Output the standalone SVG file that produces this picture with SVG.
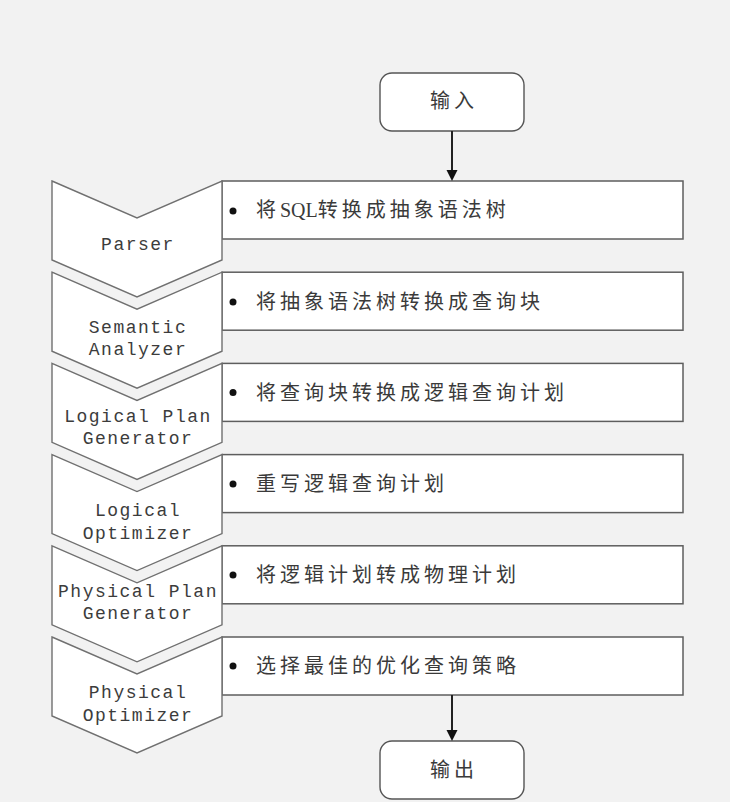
<svg xmlns="http://www.w3.org/2000/svg" width="730" height="802" viewBox="0 0 730 802">
<style>
.chev{fill:#ffffff;stroke:#707070;stroke-width:1.4;stroke-linejoin:miter}
.box{fill:#ffffff;stroke:#5e5e5e;stroke-width:1.5}
.term{fill:#ffffff;stroke:#555555;stroke-width:1.4}
.en{font-family:"Liberation Mono","DejaVu Sans Mono",monospace;font-size:18px;letter-spacing:1.5px;fill:#3c3c3c;text-anchor:middle}
.zh{font-family:"Liberation Serif","Noto Sans CJK SC",serif;font-size:20px;letter-spacing:4px;fill:#3a3a3a}
.zc{font-family:"Liberation Serif","Noto Sans CJK SC",serif;font-size:20px;letter-spacing:4px;fill:#3a3a3a;text-anchor:middle}
.lat{letter-spacing:0px}
.dot{fill:#111111}
.conn{stroke:#222222;stroke-width:2;fill:none}
.head{fill:#111111}
</style>
<rect x="0" y="0" width="730" height="802" fill="#f2f2f2"/>

<g id="input">
<rect class="term" x="380" y="73" width="144" height="58" rx="12" ry="12"/>
<text class="zc" x="454" y="108">输入</text>
</g>

<g id="parser">
<rect class="box" x="222" y="181" width="461" height="58"/>
<path class="chev" d="M52,181 L137,218 L222,181 L222,260 L137,297 L52,260 Z"/>
<circle class="dot" cx="233" cy="211" r="3.5"/>
<text class="zh" x="256" y="217">将<tspan class="lat">SQL</tspan>转换成抽象语法树</text>
<text class="en" x="138" y="250">Parser</text>
</g>

<g id="semantic-analyzer">
<rect class="box" x="222" y="272.2" width="461" height="58"/>
<path class="chev" d="M52,272.2 L137,309.2 L222,272.2 L222,351.2 L137,388.2 L52,351.2 Z"/>
<circle class="dot" cx="233" cy="302" r="3.5"/>
<text class="zh" x="256" y="308.5">将抽象语法树转换成查询块</text>
<text class="en" x="138" y="333">Semantic</text>
<text class="en" x="138" y="355">Analyzer</text>
</g>

<g id="logical-plan-generator">
<rect class="box" x="222" y="363.4" width="461" height="58"/>
<path class="chev" d="M52,363.4 L137,400.4 L222,363.4 L222,442.4 L137,479.4 L52,442.4 Z"/>
<circle class="dot" cx="233" cy="392.5" r="3.5"/>
<text class="zh" x="256" y="399.5">将查询块转换成逻辑查询计划</text>
<text class="en" x="138" y="422">Logical Plan</text>
<text class="en" x="138" y="444">Generator</text>
</g>

<g id="logical-optimizer">
<rect class="box" x="222" y="454.6" width="461" height="58"/>
<path class="chev" d="M52,454.6 L137,491.6 L222,454.6 L222,533.6 L137,570.6 L52,533.6 Z"/>
<circle class="dot" cx="233" cy="484" r="3.5"/>
<text class="zh" x="256" y="490.5">重写逻辑查询计划</text>
<text class="en" x="138" y="516">Logical</text>
<text class="en" x="138" y="539">Optimizer</text>
</g>

<g id="physical-plan-generator">
<rect class="box" x="222" y="545.8" width="461" height="58"/>
<path class="chev" d="M52,545.8 L137,582.8 L222,545.8 L222,624.8 L137,661.8 L52,624.8 Z"/>
<circle class="dot" cx="233" cy="575" r="3.5"/>
<text class="zh" x="256" y="581.5">将逻辑计划转成物理计划</text>
<text class="en" x="138" y="597">Physical Plan</text>
<text class="en" x="138" y="619">Generator</text>
</g>

<g id="physical-optimizer">
<rect class="box" x="222" y="637" width="461" height="58"/>
<path class="chev" d="M52,637 L137,674 L222,637 L222,716 L137,753 L52,716 Z"/>
<circle class="dot" cx="233" cy="666" r="3.5"/>
<text class="zh" x="256" y="672.5">选择最佳的优化查询策略</text>
<text class="en" x="138" y="698">Physical</text>
<text class="en" x="138" y="721">Optimizer</text>
</g>

<g id="output">
<rect class="term" x="380" y="741" width="144" height="58" rx="12" ry="12"/>
<text class="zc" x="454" y="777">输出</text>
</g>

<g id="connectors">
<line class="conn" x1="452" y1="131" x2="452" y2="172"/>
<polygon class="head" points="446.5,170 457.5,170 452,181"/>
<line class="conn" x1="452" y1="695" x2="452" y2="732"/>
<polygon class="head" points="446.5,730 457.5,730 452,741"/>
</g>
</svg>
